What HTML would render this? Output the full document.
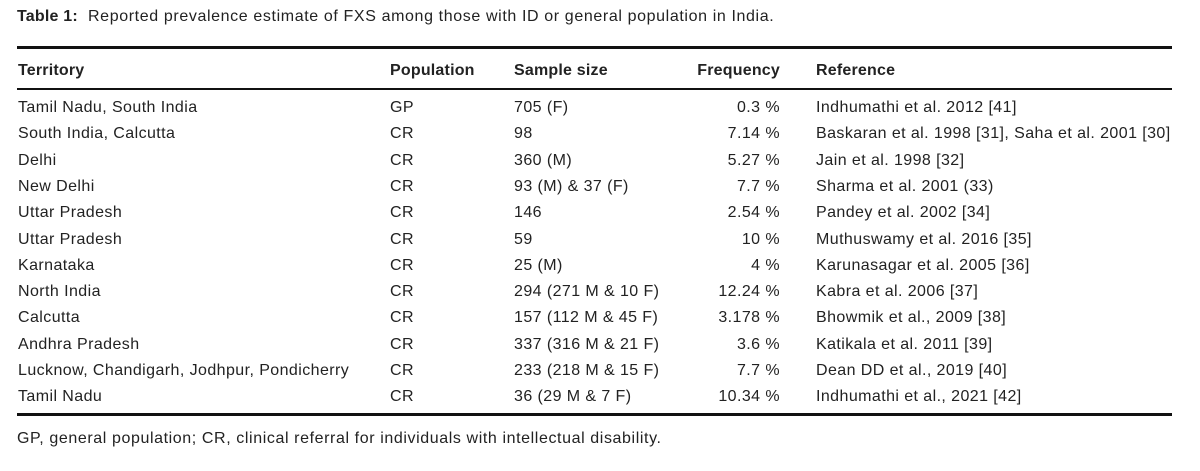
<!DOCTYPE html>
<html><head><meta charset="utf-8">
<style>
body{margin:0;width:1200px;height:471px;background:#fff;font-family:"Liberation Sans",sans-serif;color:#222;position:relative;overflow:hidden}
.t{position:absolute;font-size:16px;letter-spacing:0.42px;white-space:nowrap;line-height:18px}
.b{font-weight:bold;letter-spacing:0.2px}
.rule{position:absolute;left:17px;width:1155px;background:#111}
.r{text-align:right}
</style></head><body>
<div class="t" style="left:17px;top:8px;letter-spacing:0.62px"><b style="letter-spacing:0.2px">Table 1:</b>&nbsp; Reported prevalence estimate of FXS among those with ID or general population in India.</div>
<div class="rule" style="top:46px;height:3px"></div>
<div>
<div class="t b" style="left:18px;top:62px">Territory</div>
<div class="t b" style="left:390px;top:62px">Population</div>
<div class="t b" style="left:514px;top:62px">Sample size</div>
<div class="t b r" style="left:640px;width:140px;top:62px">Frequency</div>
<div class="t b" style="left:816px;top:62px">Reference</div>
</div>
<div class="rule" style="top:88px;height:2px"></div>
<div id="body"></div>
<div class="rule" style="top:413px;height:3px"></div>
<div class="t" style="left:17px;top:430px;letter-spacing:0.6px">GP, general population; CR, clinical referral for individuals with intellectual disability.</div>
<script>
const territories=["Tamil Nadu, South India","South India, Calcutta","Delhi","New Delhi","Uttar Pradesh","Uttar Pradesh","Karnataka","North India","Calcutta","Andhra Pradesh","Lucknow, Chandigarh, Jodhpur, Pondicherry","Tamil Nadu"];
const populations=["GP","CR","CR","CR","CR","CR","CR","CR","CR","CR","CR","CR"];
const samples=["705 (F)","98","360 (M)","93 (M) & 37 (F)","146","59","25 (M)","294 (271 M & 10 F)","157 (112 M & 45 F)","337 (316 M & 21 F)","233 (218 M & 15 F)","36 (29 M & 7 F)"];
const freqs=["0.3 %","7.14 %","5.27 %","7.7 %","2.54 %","10 %","4 %","12.24 %","3.178 %","3.6 %","7.7 %","10.34 %"];
const refs=["Indhumathi et al. 2012 [41]","Baskaran et al. 1998 [31], Saha et al. 2001 [30]","Jain et al. 1998 [32]","Sharma et al. 2001 (33)","Pandey et al. 2002 [34]","Muthuswamy et al. 2016 [35]","Karunasagar et al. 2005 [36]","Kabra et al. 2006 [37]","Bhowmik et al., 2009 [38]","Katikala et al. 2011 [39]","Dean DD et al., 2019 [40]","Indhumathi et al., 2021 [42]"];
const body=document.getElementById('body');
function cell(txt,left,top,cls,name,w){
  const d=document.createElement('div');
  d.className='t'+(cls?' '+cls:'');
  
  
  d.style.left=left+'px';d.style.top=top+'px';
  if(w)d.style.width=w+'px';
  d.textContent=txt;body.appendChild(d);
}
territories.forEach((t,i)=>{
  const y=99+i*26.3;
  cell(t,18,y,'','territory-cell');
  cell(populations[i],390,y,'','population-cell');
  cell(samples[i],514,y,'','sample-size-cell');
  cell(freqs[i],640,y,'r','frequency-cell',140);
  cell(refs[i],816,y,'','reference-cell');
});
</script>
</body></html>
